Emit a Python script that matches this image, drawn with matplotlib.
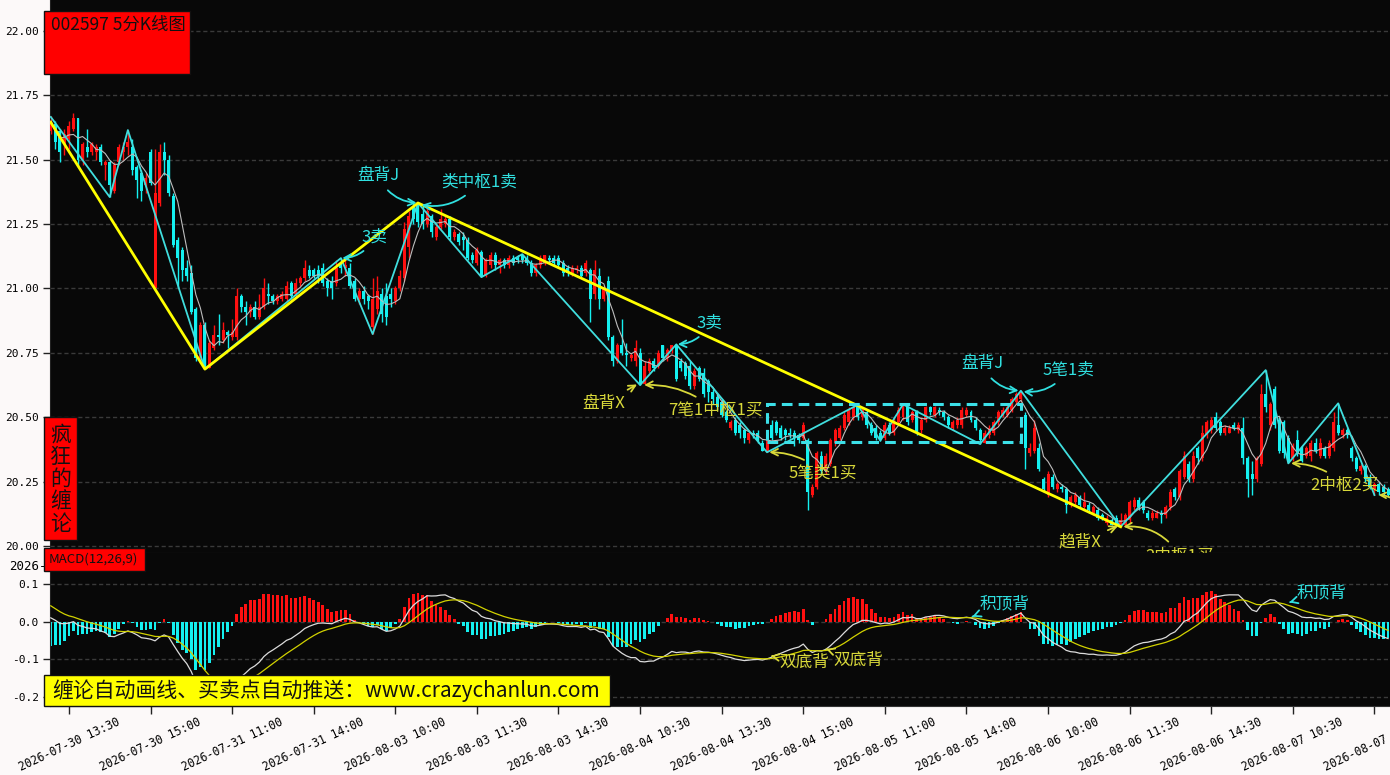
import numpy as np
import pandas as pd
import matplotlib
matplotlib.use('Agg')
import matplotlib.pyplot as plt
from matplotlib.patches import Rectangle

plt.rcParams['font.family'] = ['Noto Sans CJK SC', 'DejaVu Sans']
plt.rcParams['axes.unicode_minus'] = False

# ── 5分钟K线 ─────────────────────────────────────────
opens = [
    21.61, 21.64, 21.61, 21.56, 21.58, 21.62, 21.66, 21.50, 21.55, 21.53,
    21.53, 21.55, 21.48, 21.49, 21.38, 21.49, 21.53, 21.55, 21.55, 21.47,
    21.45, 21.40, 21.53, 21.00, 21.33, 21.53, 21.50, 21.36, 21.19, 21.15,
    21.08, 21.06, 20.92, 20.73, 20.86, 20.69, 20.77, 20.82, 20.80, 20.83,
    20.81, 20.81, 20.97, 20.93, 20.91, 20.93, 20.89, 20.93, 20.98, 20.97,
    20.95, 20.96, 20.96, 21.02, 20.98, 21.02, 21.04, 21.07, 21.07, 21.07,
    21.08, 21.03, 21.03, 21.02, 21.10, 21.08, 21.08, 21.03, 20.96, 20.99,
    20.97, 20.85, 20.92, 20.98, 20.97, 20.98, 20.95, 21.00, 21.04, 21.16,
    21.32, 21.33, 21.29, 21.25, 21.28, 21.20, 21.24, 21.25, 21.27, 21.20,
    21.21, 21.20, 21.19, 21.13, 21.10, 21.14, 21.05, 21.09, 21.13, 21.09,
    21.11, 21.09, 21.12, 21.12, 21.13, 21.12, 21.10, 21.06, 21.09, 21.10,
    21.12, 21.12, 21.12, 21.10, 21.08, 21.06, 21.07, 21.08, 21.06, 21.07,
    20.98, 21.05, 20.96, 21.03, 20.81, 20.72, 20.78, 20.75, 20.73, 20.72,
    20.75, 20.63, 20.68, 20.72, 20.70, 20.78, 20.73, 20.76, 20.78, 20.72,
    20.71, 20.70, 20.62, 20.69, 20.67, 20.64, 20.60, 20.58, 20.56, 20.52,
    20.46, 20.49, 20.47, 20.45, 20.41, 20.44, 20.44, 20.40, 20.37, 20.47,
    20.48, 20.46, 20.45, 20.44, 20.44, 20.43, 20.42, 20.41, 20.20, 20.23,
    20.35, 20.29, 20.32, 20.40, 20.42, 20.46, 20.48, 20.50, 20.545, 20.50,
    20.52, 20.47, 20.46, 20.44, 20.42, 20.47, 20.44, 20.48, 20.50, 20.54,
    20.49, 20.52, 20.45, 20.49, 20.54, 20.51, 20.53, 20.52, 20.50, 20.46,
    20.47, 20.47, 20.51, 20.52, 20.49, 20.45, 20.40, 20.43, 20.44, 20.48,
    20.51, 20.51, 20.53, 20.56, 20.57, 20.51, 20.36, 20.37, 20.38, 20.26,
    20.20, 20.27, 20.22, 20.23, 20.22, 20.16, 20.17, 20.19, 20.15, 20.16,
    20.13, 20.14, 20.12, 20.09, 20.10, 20.11, 20.08, 20.08, 20.10, 20.15,
    20.18, 20.17, 20.13, 20.11, 20.11, 20.13, 20.12, 20.15, 20.22, 20.19,
    20.27, 20.32, 20.26, 20.38, 20.34, 20.43, 20.45, 20.50, 20.48, 20.44,
    20.44, 20.47, 20.45, 20.46, 20.34, 20.28, 20.26, 20.32, 20.59, 20.47,
    20.61, 20.49, 20.48, 20.42, 20.34, 20.41, 20.38, 20.35, 20.35, 20.40,
    20.35, 20.38, 20.35, 20.38, 20.47, 20.43, 20.45, 20.38, 20.34, 20.29,
    20.31, 20.27, 20.22, 20.24, 20.23, 20.22,
]
highs = [
    21.67, 21.65, 21.62, 21.62, 21.65, 21.68, 21.66, 21.57, 21.62, 21.57,
    21.56, 21.56, 21.50, 21.50, 21.49, 21.56, 21.57, 21.615, 21.58, 21.48,
    21.46, 21.45, 21.54, 21.54, 21.56, 21.57, 21.52, 21.37, 21.20, 21.16,
    21.11, 21.09, 20.93, 20.87, 20.87, 20.80, 20.86, 20.90, 20.87, 20.84,
    20.88, 21.00, 20.98, 20.95, 20.94, 20.95, 20.98, 21.04, 21.02, 20.98,
    20.98, 20.99, 21.03, 21.03, 21.04, 21.05, 21.11, 21.09, 21.08, 21.09,
    21.10, 21.04, 21.05, 21.11, 21.118, 21.11, 21.10, 21.04, 21.00, 21.01,
    20.98, 21.04, 21.05, 21.00, 21.02, 21.00, 21.01, 21.07, 21.26, 21.30,
    21.33, 21.332, 21.32, 21.33, 21.29, 21.25, 21.31, 21.28, 21.28, 21.23,
    21.22, 21.22, 21.20, 21.14, 21.16, 21.15, 21.12, 21.14, 21.14, 21.12,
    21.12, 21.13, 21.13, 21.13, 21.133, 21.13, 21.11, 21.10, 21.13, 21.13,
    21.13, 21.13, 21.13, 21.11, 21.09, 21.09, 21.09, 21.09, 21.11, 21.08,
    21.11, 21.08, 21.01, 21.05, 20.82, 20.79, 20.88, 20.79, 20.75, 20.80,
    20.77, 20.72, 20.73, 20.73, 20.76, 20.78, 20.77, 20.78, 20.783, 20.73,
    20.72, 20.72, 20.69, 20.70, 20.69, 20.65, 20.61, 20.59, 20.57, 20.53,
    20.49, 20.50, 20.48, 20.46, 20.45, 20.45, 20.45, 20.41, 20.42, 20.49,
    20.49, 20.47, 20.46, 20.46, 20.45, 20.44, 20.48, 20.42, 20.24, 20.37,
    20.37, 20.36, 20.42, 20.46, 20.47, 20.52, 20.54, 20.545, 20.548, 20.54,
    20.53, 20.48, 20.47, 20.45, 20.48, 20.48, 20.50, 20.54, 20.55, 20.545,
    20.53, 20.53, 20.50, 20.545, 20.545, 20.545, 20.54, 20.53, 20.51, 20.49,
    20.50, 20.54, 20.54, 20.53, 20.50, 20.46, 20.45, 20.47, 20.49, 20.53,
    20.54, 20.55, 20.58, 20.60, 20.603, 20.52, 20.40, 20.49, 20.40, 20.27,
    20.29, 20.28, 20.25, 20.24, 20.23, 20.20, 20.21, 20.20, 20.21, 20.17,
    20.16, 20.15, 20.13, 20.12, 20.11, 20.12, 20.13, 20.13, 20.18, 20.19,
    20.19, 20.18, 20.14, 20.14, 20.14, 20.14, 20.16, 20.22, 20.23, 20.30,
    20.37, 20.33, 20.37, 20.39, 20.47, 20.49, 20.50, 20.52, 20.49, 20.47,
    20.47, 20.48, 20.48, 20.50, 20.35, 20.33, 20.35, 20.63, 20.683, 20.56,
    20.62, 20.50, 20.49, 20.43, 20.40, 20.45, 20.39, 20.39, 20.41, 20.42,
    20.42, 20.39, 20.41, 20.52, 20.554, 20.46, 20.46, 20.39, 20.35, 20.32,
    20.32, 20.28, 20.25, 20.25, 20.24, 20.23,
]
lows = [
    21.60, 21.54, 21.49, 21.52, 21.54, 21.61, 21.47, 21.48, 21.51, 21.52,
    21.50, 21.48, 21.42, 21.355, 21.37, 21.48, 21.50, 21.52, 21.44, 21.35,
    21.34, 21.37, 21.40, 21.00, 21.32, 21.44, 21.36, 21.16, 21.00, 21.03,
    21.03, 20.90, 20.72, 20.71, 20.687, 20.69, 20.76, 20.78, 20.79, 20.77,
    20.80, 20.80, 20.91, 20.86, 20.89, 20.88, 20.88, 20.92, 20.94, 20.94,
    20.94, 20.95, 20.95, 20.96, 20.97, 21.01, 21.03, 21.04, 21.04, 21.02,
    21.01, 20.97, 20.96, 21.01, 21.06, 21.05, 21.00, 20.95, 20.94, 20.94,
    20.92, 20.823, 20.90, 20.87, 20.86, 20.93, 20.94, 20.99, 21.03, 21.12,
    21.25, 21.24, 21.23, 21.24, 21.20, 21.19, 21.23, 21.24, 21.19, 21.19,
    21.17, 21.15, 21.11, 21.10, 21.09, 21.044, 21.045, 21.08, 21.07, 21.06,
    21.08, 21.08, 21.09, 21.10, 21.10, 21.09, 21.05, 21.05, 21.08, 21.09,
    21.10, 21.09, 21.08, 21.05, 21.05, 21.05, 21.06, 21.04, 21.05, 20.87,
    20.96, 20.92, 20.95, 20.80, 20.70, 20.71, 20.74, 20.70, 20.72, 20.70,
    20.625, 20.63, 20.67, 20.68, 20.69, 20.72, 20.72, 20.75, 20.64, 20.68,
    20.65, 20.61, 20.61, 20.64, 20.58, 20.56, 20.55, 20.53, 20.50, 20.48,
    20.45, 20.43, 20.42, 20.40, 20.40, 20.42, 20.40, 20.37, 20.364, 20.41,
    20.43, 20.41, 20.41, 20.42, 20.39, 20.40, 20.41, 20.14, 20.19, 20.22,
    20.28, 20.28, 20.31, 20.39, 20.41, 20.45, 20.47, 20.49, 20.49, 20.49,
    20.46, 20.43, 20.41, 20.409, 20.41, 20.43, 20.43, 20.47, 20.49, 20.47,
    20.48, 20.43, 20.44, 20.48, 20.51, 20.50, 20.51, 20.49, 20.46, 20.45,
    20.46, 20.46, 20.50, 20.48, 20.45, 20.396, 20.40, 20.42, 20.43, 20.47,
    20.50, 20.50, 20.52, 20.55, 20.56, 20.30, 20.35, 20.36, 20.29, 20.21,
    20.19, 20.22, 20.21, 20.21, 20.13, 20.15, 20.16, 20.15, 20.14, 20.13,
    20.12, 20.10, 20.10, 20.08, 20.08, 20.08, 20.075, 20.08, 20.09, 20.14,
    20.14, 20.13, 20.10, 20.10, 20.11, 20.09, 20.11, 20.14, 20.18, 20.18,
    20.26, 20.25, 20.25, 20.32, 20.33, 20.42, 20.44, 20.45, 20.43, 20.43,
    20.44, 20.45, 20.44, 20.32, 20.19, 20.20, 20.25, 20.31, 20.52, 20.45,
    20.46, 20.36, 20.34, 20.321, 20.33, 20.35, 20.325, 20.34, 20.33, 20.36,
    20.34, 20.34, 20.34, 20.37, 20.43, 20.42, 20.42, 20.33, 20.29, 20.28,
    20.25, 20.22, 20.198, 20.20, 20.20, 20.19,
]
closes = [
    21.65, 21.57, 21.53, 21.60, 21.63, 21.66, 21.50, 21.56, 21.53, 21.56,
    21.55, 21.49, 21.49, 21.40, 21.48, 21.55, 21.55, 21.57, 21.46, 21.42,
    21.38, 21.43, 21.41, 21.37, 21.53, 21.50, 21.37, 21.17, 21.12, 21.07,
    21.05, 20.91, 20.73, 20.86, 20.69, 20.79, 20.82, 20.81, 20.84, 20.82,
    20.83, 20.97, 20.93, 20.91, 20.93, 20.89, 20.93, 21.00, 20.97, 20.95,
    20.97, 20.98, 21.01, 20.97, 21.02, 21.04, 21.08, 21.05, 21.05, 21.05,
    21.02, 21.00, 21.00, 21.08, 21.08, 21.09, 21.01, 20.96, 20.99, 20.96,
    20.95, 20.96, 20.99, 20.90, 20.89, 20.96, 21.00, 21.05, 21.23, 21.28,
    21.27, 21.26, 21.25, 21.30, 21.22, 21.24, 21.27, 21.27, 21.20, 21.22,
    21.18, 21.19, 21.12, 21.11, 21.15, 21.05, 21.11, 21.13, 21.09, 21.11,
    21.09, 21.12, 21.10, 21.11, 21.11, 21.10, 21.06, 21.09, 21.12, 21.13,
    21.11, 21.10, 21.09, 21.06, 21.06, 21.08, 21.08, 21.05, 21.10, 20.96,
    21.07, 20.96, 21.00, 20.81, 20.72, 20.78, 20.75, 20.74, 20.74, 20.77,
    20.63, 20.70, 20.72, 20.69, 20.75, 20.73, 20.76, 20.78, 20.65, 20.69,
    20.66, 20.62, 20.68, 20.65, 20.59, 20.60, 20.57, 20.54, 20.51, 20.49,
    20.48, 20.44, 20.44, 20.42, 20.44, 20.43, 20.41, 20.37, 20.41, 20.42,
    20.44, 20.42, 20.43, 20.43, 20.42, 20.41, 20.47, 20.21, 20.23, 20.36,
    20.29, 20.35, 20.41, 20.45, 20.46, 20.51, 20.53, 20.54, 20.50, 20.53,
    20.47, 20.44, 20.42, 20.41, 20.47, 20.44, 20.49, 20.53, 20.545, 20.48,
    20.52, 20.44, 20.49, 20.54, 20.52, 20.54, 20.52, 20.50, 20.47, 20.48,
    20.49, 20.53, 20.53, 20.49, 20.46, 20.41, 20.44, 20.46, 20.48, 20.52,
    20.53, 20.54, 20.57, 20.59, 20.60, 20.38, 20.38, 20.46, 20.30, 20.22,
    20.28, 20.23, 20.24, 20.22, 20.16, 20.19, 20.20, 20.16, 20.17, 20.14,
    20.15, 20.11, 20.11, 20.11, 20.08, 20.08, 20.10, 20.12, 20.17, 20.18,
    20.15, 20.14, 20.11, 20.13, 20.13, 20.12, 20.15, 20.21, 20.19, 20.29,
    20.35, 20.26, 20.35, 20.34, 20.44, 20.48, 20.49, 20.46, 20.44, 20.46,
    20.46, 20.46, 20.47, 20.34, 20.26, 20.26, 20.34, 20.59, 20.54, 20.55,
    20.47, 20.37, 20.36, 20.33, 20.39, 20.36, 20.33, 20.38, 20.40, 20.37,
    20.40, 20.35, 20.40, 20.48, 20.44, 20.45, 20.43, 20.34, 20.30, 20.31,
    20.26, 20.23, 20.24, 20.21, 20.21, 20.20,
]

# 笔 / 线段 端点 (K线序号, 价格)
bi_idx = [0, 13, 17, 34, 64, 71, 81, 95, 104, 130, 138, 158, 178, 183, 188,
          205, 214, 236, 268, 273, 284, 292]
bi_px = [21.666, 21.355, 21.615, 20.687, 21.118, 20.823, 21.332, 21.044, 21.133,
         20.625, 20.783, 20.364, 20.548, 20.409, 20.550, 20.396, 20.603, 20.075,
         20.683, 20.321, 20.554, 20.198]
seg_idx = [0, 34, 81, 236]
seg_px = [21.645, 20.687, 21.332, 20.075]
zs_x = [158, 214]
zs_y = [20.405, 20.55]

tick_idx = [4, 22, 40, 58, 76, 94, 112, 130, 148, 166, 184, 202, 220, 238, 256, 274, 292]
tick_labels = ['2026-07-30 13:30', '2026-07-30 15:00', '2026-07-31 11:00', '2026-07-31 14:00',
               '2026-08-03 10:00', '2026-08-03 11:30', '2026-08-03 14:30', '2026-08-04 10:30',
               '2026-08-04 13:30', '2026-08-04 15:00', '2026-08-05 11:00', '2026-08-05 14:00',
               '2026-08-06 10:00', '2026-08-06 11:30', '2026-08-06 14:30', '2026-08-07 10:30',
               '2026-08-07 13:30']

# MACD 起始状态 (左端读数)
EMA12_0, EMA26_0, DEA_0 = 21.64, 21.63, 0.05

RED = '#ff1010'
CYAN = '#14f0f0'
BI_C = '#40dede'
YEL = '#ffff00'
TXT_C = '#30e0e0'
TXT_Y = '#d8d83a'
BG = '#080808'
MONO = 'DejaVu Sans Mono'

o = np.array(opens); h = np.array(highs); l = np.array(lows); c = np.array(closes)
n = len(c)
x = np.arange(n)
ma5 = pd.Series(c).rolling(5, min_periods=1).mean().values

e12, e26, dea = EMA12_0, EMA26_0, DEA_0
dif_l, dea_l = [], []
for v in c:
    e12 += 2 / 13 * (v - e12)
    e26 += 2 / 27 * (v - e26)
    d = e12 - e26
    dea += 2 / 10 * (d - dea)
    dif_l.append(d); dea_l.append(dea)
dif = np.array(dif_l); dea_a = np.array(dea_l)
hist = 2 * (dif - dea_a)

# ── 画布 ────────────────────────────────────────────────
W, H = 1390, 775
fig = plt.figure(figsize=(W / 100, H / 100), dpi=100, facecolor='#fcf9f9')
X0 = 50.8      # 第0根K线中心像素
DX = 4.533     # 每根K线像素
xl = ((50 - X0) / DX, (1393 - X0) / DX)

ax1 = fig.add_axes([50 / W, (H - 553) / H, 1343 / W, 553 / H], facecolor=BG)
ax2 = fig.add_axes([50 / W, (H - 706) / H, 1343 / W, 153 / H], facecolor=BG)

for ax in (ax1, ax2):
    ax.set_xlim(*xl)
    for s in ('top', 'right'):
        ax.spines[s].set_visible(False)
    ax.spines['left'].set_color('#222222')
    ax.spines['bottom'].set_color('#333333')
    ax.grid(axis='y', color='#3a3a3a', linestyle=(0, (3, 2)), linewidth=1)
    ax.set_axisbelow(True)
    ax.tick_params(axis='y', length=5, width=1, color='#222222', pad=3)

# K线
col = np.where(c >= o, RED, CYAN)
ax1.vlines(x, l, h, colors=col, linewidth=1, zorder=2)
ax1.bar(x, np.maximum(np.abs(c - o), 0.004), bottom=np.minimum(o, c), width=0.66,
        color=col, linewidth=0, zorder=3)
ax1.plot(x, ma5, color='#bdbdbd', linewidth=0.8, zorder=4)
ax1.plot(bi_idx, bi_px, color=BI_C, linewidth=1.3, zorder=5)
ax1.plot(seg_idx, seg_px, color=YEL, linewidth=2, zorder=6)
ax1.add_patch(Rectangle((zs_x[0], zs_y[0]), zs_x[1] - zs_x[0], zs_y[1] - zs_y[0],
                        fill=False, edgecolor='#3ce0e8', linewidth=2.2,
                        linestyle=(0, (3.5, 2)), zorder=7))

ax1.set_ylim(19.973, 22.120)
yt = np.arange(20.0, 22.01, 0.25)
ax1.set_yticks(yt)
ax1.set_yticklabels([f'{v:.2f}' for v in yt], family=MONO, fontsize=8)
ax1.set_xticks(tick_idx)
ax1.tick_params(axis='x', length=0, labelbottom=False)


def note(ax, text, xy, xytext, color, rad, fs=12):
    ax.annotate(text, xy=xy, xytext=xytext, color=color, fontsize=fs,
                ha='center', va='center', zorder=9,
                arrowprops=dict(arrowstyle='->', color=color, lw=1.3,
                                connectionstyle=f'arc3,rad={rad}',
                                shrinkA=3, shrinkB=1))


note(ax1, '盘背J', (81, 21.332), (72.2, 21.437), TXT_C, 0.3)
note(ax1, '类中枢1卖', (81.5, 21.325), (94.5, 21.414), TXT_C, -0.3)
note(ax1, '3卖', (64, 21.118), (71.5, 21.200), TXT_C, -0.3)
note(ax1, '3卖', (138, 20.783), (145.4, 20.866), TXT_C, -0.3)
note(ax1, '盘背X', (129.6, 20.63), (122.0, 20.555), TXT_Y, 0.0)
note(ax1, '7笔1中枢1买', (130.6, 20.625), (146.5, 20.528), TXT_Y, 0.2)
note(ax1, '5笔类1买', (158.2, 20.364), (170.4, 20.283), TXT_Y, 0.2)
note(ax1, '盘背J', (213.8, 20.603), (205.4, 20.707), TXT_C, 0.3)
note(ax1, '5笔1卖', (214.3, 20.60), (224.4, 20.683), TXT_C, -0.3)
note(ax1, '趋背X', (235.7, 20.08), (227.0, 20.016), TXT_Y, 0.0)
note(ax1, '2中枢1买', (236.3, 20.075), (249.1, 19.962), TXT_Y, 0.3)
note(ax1, '2中枢2买', (273.3, 20.321), (285.5, 20.237), TXT_Y, 0.2)
ax1.annotate('', xy=(292.3, 20.198), xytext=(297.5, 20.165), annotation_clip=False,
             arrowprops=dict(arrowstyle='->', color=TXT_Y, lw=1.3,
                             connectionstyle='arc3,rad=0.2'))

# MACD
ax2.bar(x, hist, width=0.6, color=np.where(hist >= 0, RED, CYAN), linewidth=0, zorder=2)
ax2.plot(x, dif, color='#dcdcdc', linewidth=0.9, zorder=3)
ax2.plot(x, dea_a, color='#d2d200', linewidth=0.9, zorder=3)
ax2.set_ylim(-0.2236, 0.182)
ax2.set_yticks([-0.2, -0.1, 0.0, 0.1])
ax2.set_yticklabels(['-0.2', '-0.1', '0.0', '0.1'], family=MONO, fontsize=8)
ax2.set_xticks(tick_idx)
ax2.set_xticklabels(tick_labels, rotation=25, fontsize=8.3, family=MONO)
ax2.tick_params(axis='x', length=6, width=1, color='#222222', pad=1)

note(ax2, '双底背', (158.5, -0.090), (166.2, -0.107), TXT_Y, 0.0)
note(ax2, '双底背', (171.0, -0.072), (178.1, -0.102), TXT_Y, 0.0)
note(ax2, '积顶背', (203.0, 0.012), (210.3, 0.047), TXT_C, 0.0)
note(ax2, '积顶背', (272.9, 0.050), (280.4, 0.076), TXT_C, 0.0)

# ── 标签框 ─────────────────────────────────────────────
def fbox(x0, y0, x1, y1, fc):
    fig.add_artist(Rectangle((x0 / W, 1 - y1 / H), (x1 - x0) / W, (y1 - y0) / H,
                             transform=fig.transFigure, facecolor=fc,
                             edgecolor='#111111', linewidth=1, zorder=5))


fig.text(9 / W, 1 - 567 / H, '2026-', fontsize=9, family=MONO, va='center', ha='left', zorder=1)
fbox(44, 11, 190, 74, '#ff0000')
fig.text(51 / W, 1 - 25 / H, '002597 5分K线图', fontsize=12.5, va='center', ha='left',
         color='#111111', zorder=6)
fbox(44, 417, 77, 540, '#ff0000')
fig.text(60.5 / W, 1 - 479 / H, '\n'.join('疯狂的缠论'), fontsize=15, linespacing=1.02,
         va='center', ha='center', color='#111111', zorder=6)
fbox(44, 548, 145, 571, '#ff0000')
fig.text(49 / W, 1 - 559.5 / H, 'MACD(12,26,9)', fontsize=9.5, va='center', ha='left',
         color='#111111', fontstretch='condensed', zorder=6)
fbox(44, 675, 610, 706, '#ffff00')
fig.text(52 / W, 1 - 691 / H, '缠论自动画线、买卖点自动推送：www.crazychanlun.com',
         fontsize=15, va='center', ha='left', color='#111111', zorder=6)

fig.savefig('out.png', dpi=100, facecolor=fig.get_facecolor())
